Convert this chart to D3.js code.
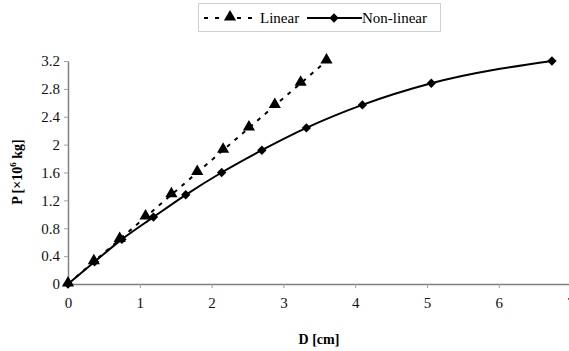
<!DOCTYPE html>
<html lang="en">
<head>
    <meta charset="UTF-8">
    <title>P vs D</title>
    <script src="https://d3js.org/d3.v7.min.js"></script>
    <style>
        body { margin: 0; background: white; }
        text { font-family: "Liberation Serif", "DejaVu Serif", serif; }
    </style>
</head>
<body>
    <svg width="569" height="351"></svg>
    <script>
        // Data
        const linearD = [0, 0.36, 0.72, 1.08, 1.44, 1.8, 2.16, 2.52, 2.88, 3.24, 3.6];
        const linearP = [0, 0.32, 0.64, 0.96, 1.28, 1.6, 1.92, 2.24, 2.56, 2.88, 3.2];
        const nonD = [0, 0.37, 0.75, 1.19, 1.64, 2.14, 2.70, 3.32, 4.10, 5.06, 6.74];
        const nonP = [0, 0.32, 0.64, 0.96, 1.28, 1.6, 1.92, 2.24, 2.57, 2.88, 3.2];
        const xTicks = [0, 1, 2, 3, 4, 5, 6, 7];
        const yTicks = [0, 0.4, 0.8, 1.2, 1.6, 2, 2.4, 2.8, 3.2];

        const serif = '"Liberation Serif", "DejaVu Serif", serif';
        const svg = d3.select("svg");

        const x = d3.scaleLinear().domain([0, 7]).range([68, 570.6]);
        const y = d3.scaleLinear().domain([0, 3.2]).range([284, 61]);

        const linear = linearD.map((d, i) => ({ d: d, p: linearP[i] }));
        const non = nonD.map((d, i) => ({ d: d, p: nonP[i] }));

        // Axes
        const xAxis = svg.append("g")
            .attr("transform", "translate(0,284)")
            .call(d3.axisBottom(x).tickValues(xTicks).tickSize(4).tickSizeOuter(0).tickPadding(9).tickFormat(d3.format("d")));
        const yAxis = svg.append("g")
            .attr("transform", "translate(68,0)")
            .call(d3.axisLeft(y).tickValues(yTicks).tickSize(4).tickSizeOuter(0).tickPadding(4).tickFormat(d => d));

        [xAxis, yAxis].forEach(a => {
            a.attr("font-family", serif);
            a.select(".domain").attr("stroke", "#808080").attr("stroke-width", 1.5);
            a.selectAll(".tick line").attr("stroke", "#a0a0a0");
            a.selectAll(".tick text")
             .attr("fill", "#111")
             .style("font-family", serif)
             .style("font-size", "15px");
        });

        // Lines
        const line = d3.line().x(d => x(d.d)).y(d => y(d.p));
        const smooth = d3.line().x(d => x(d.d)).y(d => y(d.p)).curve(d3.curveMonotoneX);

        svg.append("path")
           .datum(linear)
           .attr("fill", "none")
           .attr("stroke", "black")
           .attr("stroke-width", 2)
           .attr("stroke-dasharray", "4,6")
           .attr("d", line);

        svg.append("path")
           .datum(non)
           .attr("fill", "none")
           .attr("stroke", "black")
           .attr("stroke-width", 2)
           .attr("d", smooth);

        const tri = d3.symbol().type(d3.symbolTriangle).size(64);
        const dia = d3.symbol().type(d3.symbolSquare).size(44);

        svg.selectAll(".tri")
           .data(linear)
           .enter().append("path")
           .attr("class", "tri")
           .attr("d", tri)
           .attr("transform", d => `translate(${x(d.d)},${y(d.p) - 1})`)
           .attr("fill", "black");

        svg.selectAll(".dia")
           .data(non)
           .enter().append("path")
           .attr("class", "dia")
           .attr("d", dia)
           .attr("transform", d => `translate(${x(d.d)},${y(d.p)}) rotate(45)`)
           .attr("fill", "black");

        // Axis titles
        svg.append("text")
           .attr("x", 319)
           .attr("y", 344)
           .attr("text-anchor", "middle")
           .style("font-size", "14px")
           .style("font-weight", "bold")
           .text("D [cm]");

        const yTitle = svg.append("text")
           .attr("transform", "translate(22,172) rotate(-90)")
           .attr("text-anchor", "middle")
           .style("font-size", "14px")
           .style("font-weight", "bold");
        yTitle.append("tspan").text("P [×10");
        yTitle.append("tspan").attr("dy", -6).style("font-size", "9px").text("6");
        yTitle.append("tspan").attr("dy", 6).text(" kg]");

        // Legend
        const legend = svg.append("g");
        legend.append("rect")
              .attr("x", 198.5).attr("y", 3.5)
              .attr("width", 242).attr("height", 28)
              .attr("fill", "white")
              .attr("stroke", "#d0d0d0");

        legend.append("line")
              .attr("x1", 204).attr("x2", 256).attr("y1", 18).attr("y2", 18)
              .attr("stroke", "black").attr("stroke-width", 2)
              .attr("stroke-dasharray", "4,7");
        legend.append("path").attr("d", tri).attr("transform", "translate(230,17)").attr("fill", "black");
        legend.append("text").attr("x", 260).attr("y", 22.5).style("font-size", "15px").text("Linear");

        legend.append("line")
              .attr("x1", 307).attr("x2", 362).attr("y1", 18).attr("y2", 18)
              .attr("stroke", "black").attr("stroke-width", 2);
        legend.append("path").attr("d", dia).attr("transform", "translate(334,18) rotate(45)").attr("fill", "black");
        legend.append("text").attr("x", 362).attr("y", 22.5).style("font-size", "15px").text("Non-linear");
    </script>
</body>
</html>
